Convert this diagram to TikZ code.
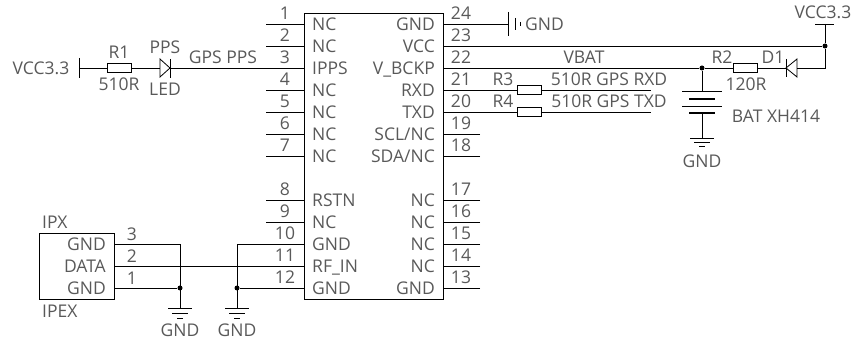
\documentclass[tikz,border=0pt]{standalone}
\usepackage{fontspec}
\setmainfont{Open Sans}
\tikzset{
  txt/.style={inner sep=0pt, text height=12.5pt, text depth=0pt, font=\fontsize{17.5}{17.5}\selectfont, text=black!65},
  chip/.style={draw, line width=0.8pt, inner sep=0pt},
  res/.style={draw, fill=white, line width=0.8pt, minimum width=24pt, minimum height=9pt, inner sep=0pt},
  wire/.style={line width=0.8pt},
  dot/.style={circle, fill=black, inner sep=0pt, minimum size=5pt},
  thickplate/.style={line width=2.4pt}
}
\begin{document}
\begin{tikzpicture}[x=1pt,y=-1pt]
  \useasboundingbox (0,0) rectangle (855,339);

  % module
  \node[chip, minimum width=139pt, minimum height=286pt] (gps) at (373.5,156) {};

  % left side pins
  \foreach \n/\y/\name in {1/24/NC,2/46/NC,3/68/IPPS,4/90/NC,5/112/NC,6/134/NC,7/156/NC,8/200/RSTN,9/222/NC,10/244/GND,11/266/RF\_IN,12/288/GND}{
    \node[txt] (num\n) at (285,\y-11) {\n};
    \node[txt, anchor=west] (lab\n) at (312,\y) {\name};
  }
  \foreach \n/\y in {1/24,2/46,4/90,5/112,6/134,7/156,8/200,9/222}{
    \coordinate (pin\n) at (266,\y);
    \draw[wire] (pin\n) -- (pin\n -| gps.west);
  }

  % right side pins
  \foreach \n/\y/\name in {24/24/GND,23/46/VCC,22/68/V\_BCKP,21/90/RXD,20/112/TXD,19/134/{SCL/NC},18/156/{SDA/NC},17/200/NC,16/222/NC,15/244/NC,14/266/NC,13/288/GND}{
    \node[txt] (num\n) at (461,\y-11) {\n};
    \node[txt, anchor=east] (lab\n) at (435,\y) {\name};
  }
  \foreach \n/\y in {19/134,18/156,17/200,16/222,15/244,14/266,13/288}{
    \coordinate (pin\n) at (480,\y);
    \draw[wire] (pin\n) -- (pin\n -| gps.east);
  }

  % led branch
  \node[txt] (vccl) at (41,68) {VCC3.3};
  \coordinate (vcclt) at (79,58);
  \coordinate (vcclb) at (79,78);
  \coordinate (vcclm) at (79,68);
  \draw[wire] (vcclt) -- (vcclb);
  \node[res] (r1) at (119,68) {};
  \node[txt] (r1t) at (119,52) {R1};
  \node[txt] (r1v) at (119,84) {510R};
  \coordinate (leda) at (160,68);
  \coordinate (ledk) at (170,68);
  \draw[wire] (vcclm) -- (r1) -- (leda);
  \draw[wire] (160,59) -- (170,68) -- (160,77) -- cycle;
  \draw[wire] (170,59) -- (170,78);
  \draw[wire] (ledk) -- (ledk -| gps.west);
  \node[txt] (ledt) at (165,47) {PPS};
  \node[txt] (ledv) at (165,89) {LED};
  \node[txt] (ppsl) at (223,57) {GPS PPS};

  % ground on pin 24
  \coordinate (g24) at (508,24);
  \draw[wire] (g24 -| gps.east) -- (g24);
  \draw[wire] (508,12) -- (508,36);
  \draw[wire] (515,18) -- (515,30);
  \draw[wire] (520,22) -- (520,26);
  \node[txt, anchor=west] (g24l) at (525,24) {GND};

  % supply and battery
  \node[txt] (vccr) at (823,12) {VCC3.3};
  \coordinate (vcct) at (825,24);
  \draw[wire] (815,24) -- (834,24);
  \node[dot] (d23) at (825,46) {};
  \draw[wire] (d23 -| gps.east) -- (d23);
  \draw[wire] (vcct) -- (d23);
  \coordinate (d1a) at (797,68);
  \coordinate (d1k) at (786,68);
  \draw[wire] (d23) |- (d1a);
  \draw[wire] (797,59) -- (786,68) -- (797,77) -- cycle;
  \draw[wire] (786,59) -- (786,77);
  \node[res] (r2) at (745,68) {};
  \draw[wire] (d1k) -- (r2);
  \node[dot] (vb) at (702,68) {};
  \draw[wire] (r2) -- (vb);
  \draw[wire] (vb -| gps.east) -- (vb);
  \node[txt] (vbat) at (584,57) {VBAT};
  \node[txt] (r2t) at (722,57) {R2};
  \node[txt] (d1t) at (773,57) {D1};
  \node[txt] (r2v) at (746,84) {120R};
  \coordinate (bt) at (702,91);
  \coordinate (bb) at (702,113);
  \draw[wire] (vb) -- (bt);
  \draw[wire] (682,91) -- (722,91);
  \draw[thickplate] (689,99) -- (715,99);
  \draw[wire] (682,106) -- (722,106);
  \draw[thickplate] (689,113) -- (715,113);
  \coordinate (g3) at (702,138);
  \draw[wire] (bb) -- (g3);
  \draw[wire] (690,138) -- (714,138);
  \draw[wire] (694,142) -- (710,142);
  \draw[wire] (699,146) -- (705,146);
  \node[txt] (g3l) at (702,161) {GND};
  \node[txt] (bat) at (776,116) {BAT XH414};

  % serial lines
  \node[res] (r3) at (529,90) {};
  \node[res] (r4) at (529,112) {};
  \coordinate (rxe) at (651,90);
  \coordinate (txe) at (651,112);
  \draw[wire] (r3 -| gps.east) -- (r3) -- (rxe);
  \draw[wire] (r4 -| gps.east) -- (r4) -- (txe);
  \node[txt] (r3t) at (503,79) {R3};
  \node[txt] (r4t) at (503,101) {R4};
  \node[txt] (rxl) at (609,79) {510R GPS RXD};
  \node[txt] (txl) at (609,101) {510R GPS TXD};

  % antenna socket
  \node[chip, minimum width=75pt, minimum height=66pt] (ipx) at (76.5,266) {};
  \node[txt, anchor=west] (ipxt) at (42,222) {IPX};
  \node[txt, anchor=west] (ipxb) at (42,311) {IPEX};
  \node[txt, anchor=east] (ipx3) at (106,244) {GND};
  \node[txt, anchor=east] (ipx2) at (106,266) {DATA};
  \node[txt, anchor=east] (ipx1) at (106,288) {GND};
  \node[txt] (n3) at (132,234) {3};
  \node[txt] (n2) at (132,256) {2};
  \node[txt] (n1) at (132,278) {1};
  \node[dot] (ga) at (180,288) {};
  \node[dot] (gb) at (237,288) {};
  \coordinate (gat) at (180,244);
  \coordinate (gbt) at (237,244);
  \coordinate (gae) at (180,308);
  \coordinate (gbe) at (237,308);
  \draw[wire] (gat -| ipx.east) -- (gat) -- (gae);
  \draw[wire] (ga -| ipx.east) -- (ga);
  \draw[wire] (ipx.east) -- (ipx.east -| gps.west);
  \draw[wire] (gb -| gps.west) -- (gb);
  \draw[wire] (gbt -| gps.west) -- (gbt) -- (gbe);
  \foreach \x/\m in {180/a,237/b}{
    \draw[wire] (\x-12,308) -- (\x+12,308);
    \draw[wire] (\x-8,313) -- (\x+8,313);
    \draw[wire] (\x-3,318) -- (\x+3,318);
    \node[txt] (gl\m) at (\x,330) {GND};
  }
\end{tikzpicture}
\end{document}
